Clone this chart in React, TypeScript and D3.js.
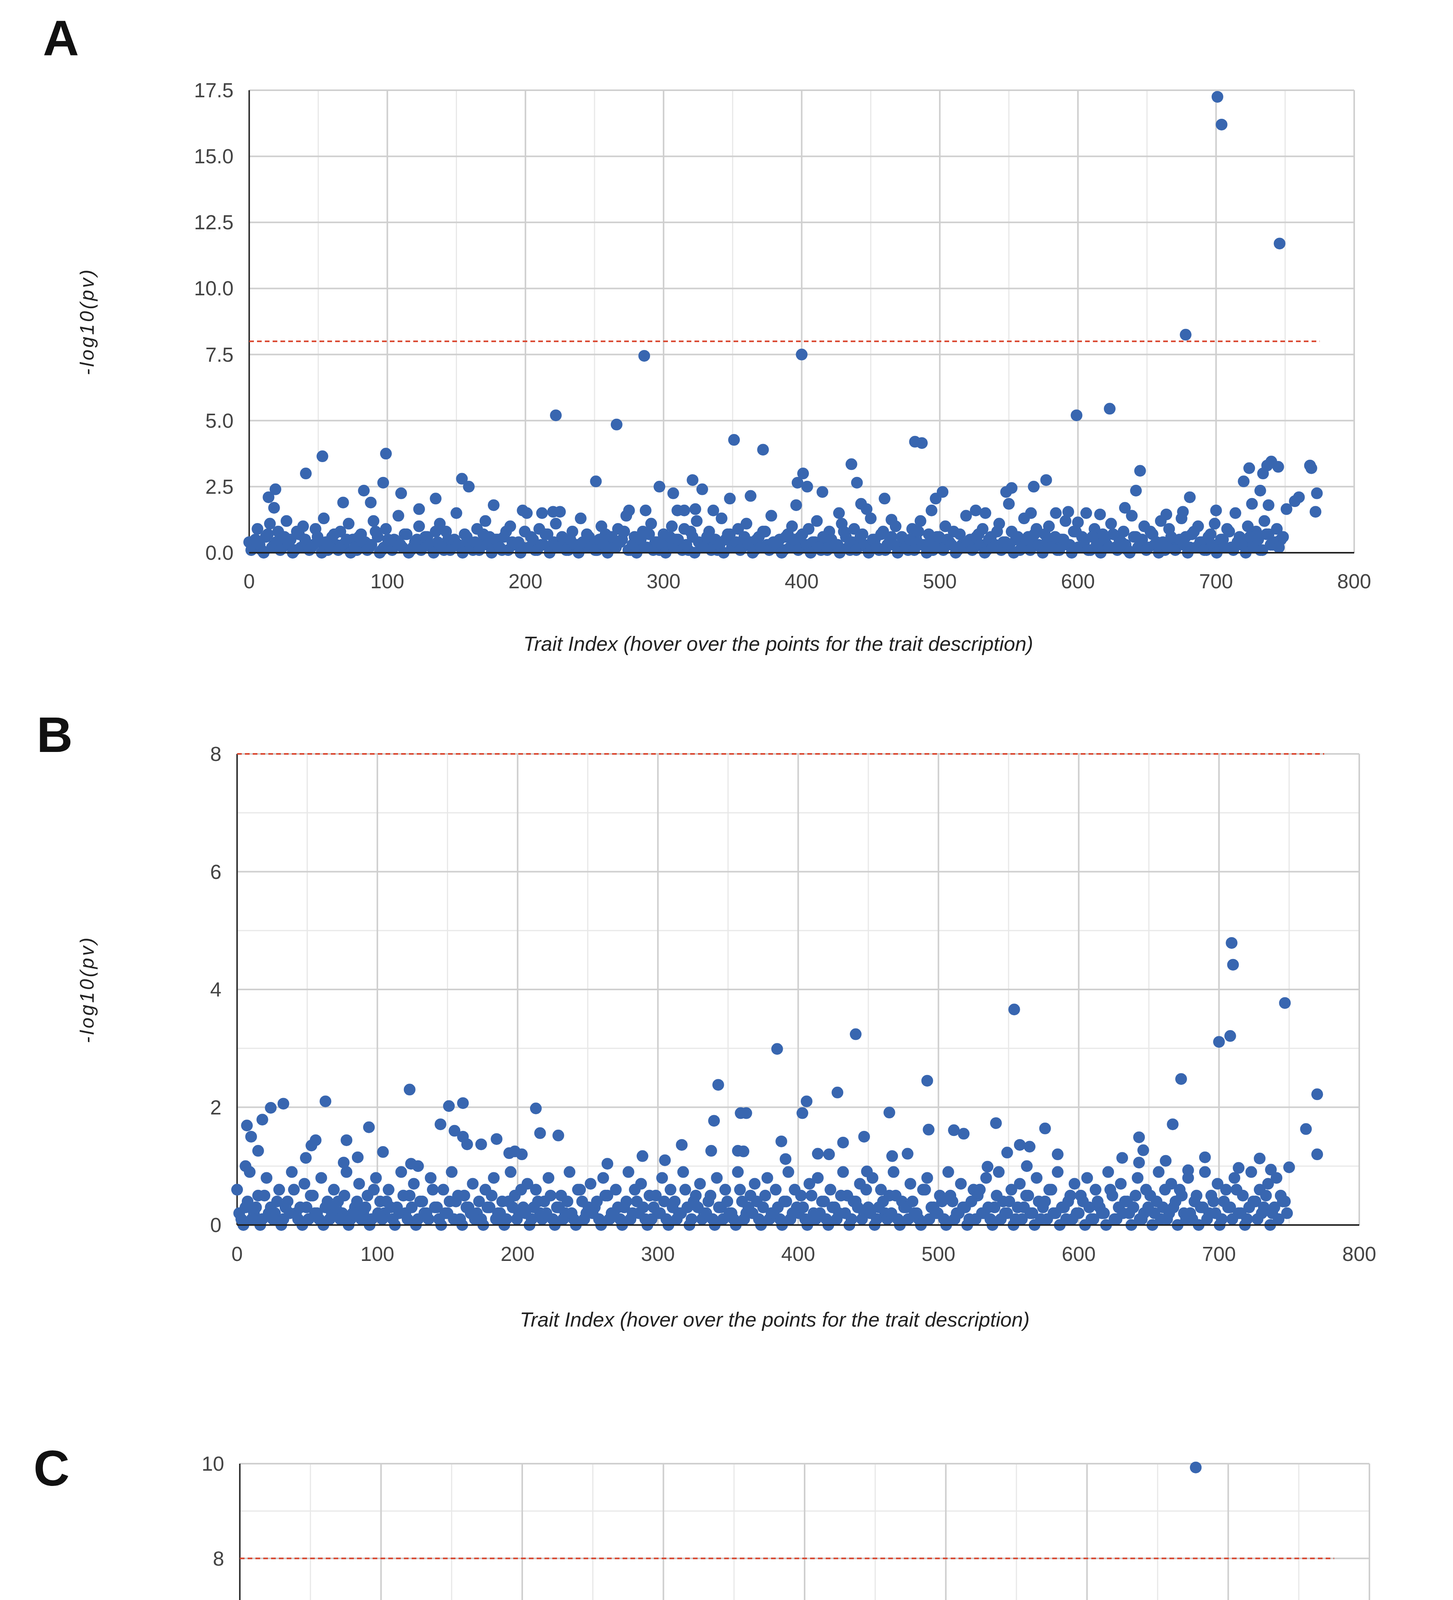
import React from "react";
import * as d3 from "d3";

// ---------- DATA ----------
// base (dense, low) values: trait index = position * 3
const baseA = [
0.4,0.2,0.9,0.1,0.6,1.1,0.3,0.8,0.2,1.2,0.5,0.1,0.7,1.0,0.3,0.2,0.9,0.4,1.3,0.1,
0.6,0.3,0.8,0.2,1.1,0.5,0.1,0.7,0.4,0.2,1.2,0.6,0.1,0.9,0.3,0.5,1.4,0.2,0.7,0.1,
0.4,1.0,0.3,0.6,0.2,0.8,1.1,0.1,0.5,0.3,1.5,0.2,0.7,0.4,0.1,0.9,0.3,1.2,0.6,0.2,
0.5,0.1,0.8,1.0,0.3,0.4,0.2,1.5,0.6,0.1,0.9,0.3,0.7,0.2,1.1,0.4,0.5,0.1,0.8,0.3,
1.3,0.2,0.6,0.4,0.1,1.0,0.7,0.3,0.2,0.9,0.5,1.4,0.1,0.6,0.3,0.8,0.2,1.1,0.4,0.1,
0.7,0.3,1.0,0.5,0.2,0.9,0.1,0.6,1.2,0.3,0.4,0.8,0.2,0.1,1.3,0.5,0.7,0.3,0.9,0.2,
1.1,0.4,0.1,0.6,0.8,0.3,1.4,0.2,0.5,0.1,0.7,1.0,0.3,0.6,0.2,0.9,0.4,1.2,0.1,0.5,
0.8,0.2,0.3,1.1,0.6,0.1,0.9,0.4,0.7,0.2,1.3,0.5,0.1,0.8,0.3,0.6,1.0,0.2,0.4,0.1,
0.9,0.5,1.2,0.3,0.7,0.1,0.6,0.2,1.0,0.4,0.8,0.1,0.3,1.4,0.5,0.2,0.7,0.9,0.1,0.6,
0.3,1.1,0.4,0.2,0.8,0.5,0.1,1.3,0.6,0.3,0.9,0.2,0.7,1.0,0.4,0.1,0.5,1.2,0.3,0.8,
0.2,0.6,1.5,0.1,0.9,0.4,0.7,0.3,1.1,0.2,0.5,0.8,0.1,1.4,0.6,0.3,1.0,0.2,0.7,0.4,
1.2,0.1,0.9,0.5,0.3,1.3,0.6,0.2,0.8,1.0,0.4,0.1,0.7,1.1,0.3,0.5,0.9,0.2,1.5,0.6,
0.4,1.0,0.2,0.8,0.1,1.2,0.7,0.3,0.9,0.5];
const baseA2 = [
0.1,0.5,0.3,0.0,0.7,0.2,0.4,0.1,0.6,0.3,0.0,0.8,0.2,0.5,0.1,0.3,0.6,0.0,0.4,0.2,
0.7,0.1,0.3,0.5,0.0,0.2,0.6,0.4,0.1,0.3,0.8,0.0,0.2,0.5,0.1,0.4,0.3,0.7,0.0,0.2,
0.5,0.1,0.6,0.3,0.0,0.4,0.2,0.8,0.1,0.5,0.3,0.0,0.6,0.2,0.4,0.1,0.7,0.3,0.0,0.5,
0.2,0.6,0.1,0.4,0.3,0.0,0.8,0.2,0.5,0.1,0.3,0.7,0.0,0.4,0.2,0.6,0.1,0.5,0.3,0.0,
0.4,0.7,0.2,0.1,0.5,0.3,0.0,0.6,0.2,0.4,0.8,0.1,0.3,0.0,0.5,0.2,0.7,0.1,0.4,0.3,
0.0,0.6,0.2,0.5,0.1,0.3,0.8,0.0,0.4,0.2,0.6,0.1,0.5,0.3,0.0,0.7,0.2,0.4,0.1,0.6,
0.3,0.0,0.5,0.2,0.8,0.1,0.4,0.3,0.0,0.6,0.2,0.5,0.1,0.7,0.3,0.0,0.4,0.2,0.6,0.1,
0.5,0.3,0.0,0.8,0.2,0.4,0.1,0.6,0.3,0.0,0.5,0.2,0.7,0.1,0.4,0.3,0.0,0.6,0.2,0.5,
0.1,0.8,0.3,0.0,0.4,0.2,0.6,0.1,0.5,0.3,0.0,0.7,0.2,0.4,0.1,0.6,0.3,0.0,0.5,0.2,
0.8,0.1,0.4,0.3,0.0,0.6,0.2,0.5,0.1,0.7,0.3,0.0,0.4,0.2,0.6,0.1,0.5,0.3,0.0,0.8,
0.2,0.4,0.1,0.6,0.3,0.0,0.5,0.2,0.7,0.1,0.4,0.3,0.0,0.6,0.2,0.5,0.1,0.8,0.3,0.0,
0.4,0.2,0.6,0.1,0.5,0.3,0.0,0.7,0.2,0.4,0.1,0.6,0.3,0.0,0.5,0.2,0.8,0.1,0.4,0.3,
0.0,0.6,0.2,0.5,0.1,0.7,0.3,0.4,0.2,0.6];
const outA: [number, number][] = [
[701,17.25],[704,16.2],[746,11.7],[678,8.25],[286,7.45],[400,7.5],[222,5.2],[266,4.85],[599,5.2],[623,5.45],
[351,4.27],[372,3.9],[482,4.2],[487,4.15],[53,3.65],[99,3.75],[41,3.0],[436,3.35],[645,3.1],[724,3.2],
[740,3.45],[737,3.3],[745,3.25],[768,3.3],[769,3.2],[401,3.0],[19,2.4],[14,2.1],[18,1.7],[97,2.65],
[83,2.35],[110,2.25],[135,2.05],[154,2.8],[159,2.5],[251,2.7],[297,2.5],[307,2.25],[321,2.75],[328,2.4],
[363,2.15],[348,2.05],[397,2.65],[404,2.5],[415,2.3],[440,2.65],[460,2.05],[502,2.3],[497,2.05],[548,2.3],
[552,2.45],[577,2.75],[568,2.5],[642,2.35],[681,2.1],[720,2.7],[732,2.35],[773,2.25],[760,2.1],[734,3.0],
[88,1.9],[68,1.9],[123,1.65],[177,1.8],[198,1.6],[212,1.5],[220,1.55],[225,1.55],[275,1.6],[287,1.6],
[310,1.6],[315,1.6],[323,1.65],[336,1.6],[396,1.8],[427,1.5],[443,1.85],[447,1.65],[465,1.25],[494,1.6],
[526,1.6],[533,1.5],[550,1.85],[566,1.5],[584,1.5],[593,1.55],[616,1.45],[634,1.7],[664,1.45],[676,1.55],
[700,1.6],[726,1.85],[738,1.8],[751,1.65],[757,1.95],[772,1.55],[600,1.15]];

const baseB = [
0.6,0.1,0.3,0.9,0.2,0.5,0.1,0.8,0.3,0.2,0.6,0.1,0.4,0.9,0.2,0.3,0.7,0.1,0.5,0.2,
0.8,0.3,0.1,0.6,0.4,0.2,0.9,0.1,0.3,0.7,0.2,0.5,0.1,0.8,0.4,0.2,0.6,0.1,0.3,0.9,
0.2,0.5,0.7,0.1,0.4,0.2,0.8,0.3,0.1,0.6,0.2,0.9,0.4,0.1,0.5,0.3,0.7,0.2,0.1,0.6,
0.3,0.8,0.2,0.4,0.1,0.9,0.5,0.2,0.3,0.7,0.1,0.6,0.2,0.4,0.8,0.1,0.3,0.5,0.2,0.9,
0.1,0.6,0.4,0.2,0.7,0.3,0.1,0.8,0.5,0.2,0.6,0.1,0.3,0.9,0.2,0.4,0.7,0.1,0.5,0.3,
0.2,0.8,0.1,0.6,0.4,0.2,0.9,0.3,0.1,0.5,0.7,0.2,0.4,0.1,0.8,0.3,0.6,0.2,0.1,0.9,
0.4,0.2,0.5,0.7,0.1,0.3,0.8,0.2,0.6,0.1,0.4,0.9,0.2,0.3,0.5,0.1,0.7,0.2,0.8,0.4,
0.1,0.6,0.3,0.2,0.9,0.5,0.1,0.4,0.7,0.2,0.3,0.8,0.1,0.6,0.2,0.5,0.9,0.1,0.4,0.3,
0.7,0.2,0.1,0.6,0.8,0.3,0.2,0.5,0.1,0.9,0.4,0.2,0.7,0.3,0.1,0.6,0.5,0.2,0.8,0.1,
0.3,0.9,0.4,0.2,0.6,0.1,0.7,0.3,0.5,0.2,0.8,0.1,0.4,0.6,0.2,0.9,0.3,0.1,0.5,0.7,
0.2,0.4,0.8,0.1,0.6,0.3,0.2,0.9,0.5,0.1,0.7,0.4,0.2,0.3,0.8,0.1,0.6,0.5,0.2,0.9,
0.3,0.1,0.7,0.4,0.6,0.2,0.8,0.1,0.5,0.3,0.9,0.2,0.4,0.7,0.1,0.6,0.3,0.8,0.2,0.5,
0.1,0.9,0.4,0.6,0.3,0.7,0.2,0.8,0.5,0.4];
const baseB2 = [
0.2,0.0,0.4,0.1,0.3,0.0,0.5,0.2,0.1,0.4,0.0,0.3,0.2,0.6,0.1,0.0,0.3,0.5,0.2,0.1,
0.0,0.4,0.2,0.3,0.1,0.5,0.0,0.2,0.4,0.1,0.3,0.0,0.6,0.2,0.1,0.4,0.3,0.0,0.2,0.5,
0.1,0.3,0.0,0.4,0.2,0.1,0.6,0.3,0.0,0.2,0.4,0.1,0.5,0.0,0.3,0.2,0.1,0.4,0.0,0.3,
0.5,0.1,0.2,0.0,0.4,0.3,0.1,0.6,0.2,0.0,0.3,0.4,0.1,0.2,0.5,0.0,0.3,0.1,0.4,0.2,
0.0,0.6,0.1,0.3,0.2,0.4,0.0,0.5,0.1,0.2,0.3,0.0,0.4,0.1,0.6,0.2,0.3,0.0,0.1,0.5,
0.2,0.4,0.0,0.3,0.1,0.2,0.6,0.0,0.4,0.3,0.1,0.2,0.5,0.0,0.3,0.1,0.4,0.2,0.0,0.6,
0.1,0.3,0.2,0.4,0.0,0.5,0.1,0.2,0.3,0.0,0.4,0.1,0.6,0.2,0.3,0.0,0.5,0.1,0.2,0.4,
0.0,0.3,0.1,0.5,0.2,0.0,0.4,0.3,0.1,0.6,0.2,0.0,0.3,0.4,0.1,0.2,0.5,0.0,0.3,0.1,
0.4,0.2,0.0,0.6,0.1,0.3,0.2,0.4,0.0,0.5,0.1,0.2,0.3,0.0,0.4,0.1,0.6,0.2,0.3,0.0,
0.5,0.1,0.2,0.4,0.0,0.3,0.1,0.5,0.2,0.0,0.4,0.3,0.1,0.6,0.2,0.0,0.3,0.4,0.1,0.2,
0.5,0.0,0.3,0.1,0.4,0.2,0.0,0.6,0.1,0.3,0.2,0.4,0.0,0.5,0.1,0.2,0.3,0.0,0.4,0.1,
0.6,0.2,0.3,0.0,0.5,0.1,0.2,0.4,0.0,0.3,0.1,0.5,0.2,0.0,0.4,0.3,0.1,0.6,0.2,0.0,
0.3,0.4,0.1,0.2,0.5,0.0,0.3,0.1,0.4,0.2];
const outB: [number, number][] = [
[709,4.79],[710,4.42],[747,3.77],[554,3.66],[441,3.24],[708,3.21],[700,3.11],[385,2.99],[673,2.48],[492,2.45],
[343,2.38],[123,2.3],[428,2.25],[770,2.22],[63,2.1],[33,2.06],[24,1.99],[161,2.07],[151,2.02],[213,1.98],
[406,2.1],[403,1.9],[359,1.9],[363,1.9],[465,1.91],[18,1.79],[7,1.69],[10,1.5],[145,1.71],[340,1.77],
[667,1.71],[541,1.73],[576,1.64],[493,1.62],[511,1.61],[518,1.55],[762,1.63],[94,1.66],[155,1.6],[216,1.56],
[229,1.52],[185,1.46],[161,1.5],[447,1.5],[643,1.49],[78,1.44],[56,1.44],[53,1.35],[164,1.37],[174,1.37],
[388,1.42],[432,1.4],[317,1.36],[558,1.36],[565,1.33],[15,1.26],[338,1.26],[357,1.26],[361,1.25],[646,1.27],
[549,1.23],[104,1.24],[585,1.2],[194,1.22],[198,1.25],[203,1.2],[770,1.2],[414,1.21],[422,1.2],[467,1.17],
[478,1.21],[86,1.15],[49,1.14],[289,1.17],[305,1.1],[631,1.14],[690,1.15],[729,1.13],[391,1.12],[662,1.09],
[6,1.0],[76,1.06],[124,1.04],[129,1.0],[563,1.0],[643,1.06],[714,0.97],[750,0.98],[737,0.94],[535,0.99],
[264,1.04],[678,0.93],[449,0.91]];

const baseC = [
0.3,0.1,0.5,0.2,0.7,0.1,0.4,0.9,0.2,0.3,0.6,0.1,0.8,0.2,0.4,0.1,0.5,0.7,0.2,0.3,
0.1,0.6,0.2,0.9,0.4,0.1,0.3,0.5,0.2,0.7,0.1,0.4,0.6,0.2,0.1,0.8,0.3,0.5,0.2,0.1,
0.6,0.3,0.9,0.1,0.4,0.2,0.7,0.1,0.5,0.3,0.2,0.6,0.1,0.8,0.4,0.2,0.3,0.1,0.7,0.5,
0.2,0.1,0.6,0.3,0.9,0.2,0.4,0.1,0.5,0.7,0.2,0.3,0.1,0.6,0.4,0.8,0.2,0.1,0.5,0.3,
0.7,0.1,0.2,0.6,0.4,0.1,0.9,0.3,0.5,0.2,0.1,0.7,0.3,0.6,0.2,0.4,0.1,0.8,0.5,0.2,
0.3,0.1,0.6,0.9,0.2,0.4,0.1,0.7,0.3,0.5,0.2,0.8,0.1,0.4,0.6,0.2,0.3,0.1,0.9,0.5,
0.2,0.7,0.1,0.4,0.3,0.6,0.2,0.8,0.1,0.5,0.3,0.2,0.7,0.4,0.1,0.6,0.9,0.2,0.3,0.5,
0.1,0.8,0.4,0.2,0.6,0.1,0.3,0.7,0.5,0.2,0.1,0.9,0.4,0.3,0.6,0.2,0.1,0.8,0.5,0.3,
0.2,0.7,0.1,0.4,0.6,0.2,0.9,0.3,0.1,0.5,0.8,0.2,0.4,0.1,0.7,0.3,0.6,0.2,0.1,0.5,
0.9,0.3,0.2,0.6,0.4,0.1,0.8,0.5,0.2,0.3,0.7,0.1,0.4,0.6,0.2,0.9,0.3,0.1,0.5,0.8,
0.2,0.4,0.7,0.1,0.6,0.3,0.2,1.0,0.5,0.1,0.8,0.4,0.3,0.6,0.2,0.9,0.1,0.7,0.5,0.3,
0.2,1.1,0.4,0.6,0.1,0.8,0.3,0.9,0.2,0.5,0.4,1.0,0.1,0.7,0.3,0.2,0.6,0.1,0.4,0.2,
0.9,0.6,1.1,0.8,0.4,0.7,0.2,0.5,0.9,0.3];
const baseC2 = [
0.1,0.4,0.0,0.2,0.3,0.1,0.5,0.0,0.2,0.4,0.1,0.3,0.0,0.5,0.2,0.1,0.3,0.0,0.4,0.2,
0.5,0.1,0.0,0.3,0.2,0.4,0.1,0.0,0.5,0.3,0.2,0.1,0.4,0.0,0.3,0.2,0.5,0.1,0.0,0.4,
0.2,0.3,0.1,0.5,0.0,0.2,0.4,0.1,0.3,0.0,0.5,0.2,0.1,0.4,0.0,0.3,0.2,0.5,0.1,0.0,
0.4,0.2,0.3,0.1,0.0,0.5,0.2,0.4,0.1,0.3,0.0,0.2,0.5,0.1,0.4,0.0,0.3,0.2,0.1,0.5,
0.0,0.4,0.2,0.3,0.1,0.5,0.0,0.2,0.4,0.1,0.3,0.0,0.5,0.2,0.1,0.4,0.0,0.3,0.2,0.5,
0.1,0.0,0.4,0.2,0.3,0.1,0.5,0.0,0.2,0.4,0.1,0.3,0.0,0.5,0.2,0.1,0.4,0.0,0.3,0.2,
0.5,0.1,0.0,0.4,0.2,0.3,0.1,0.5,0.0,0.2,0.4,0.1,0.3,0.0,0.5,0.2,0.1,0.4,0.0,0.3,
0.2,0.5,0.1,0.0,0.4,0.2,0.3,0.1,0.5,0.0,0.2,0.4,0.1,0.3,0.0,0.5,0.2,0.1,0.4,0.0,
0.3,0.2,0.5,0.1,0.0,0.4,0.2,0.3,0.1,0.5,0.0,0.2,0.4,0.1,0.3,0.0,0.5,0.2,0.1,0.4,
0.0,0.3,0.2,0.5,0.1,0.0,0.4,0.2,0.3,0.1,0.5,0.0,0.2,0.4,0.1,0.3,0.0,0.5,0.2,0.1,
0.4,0.0,0.3,0.2,0.5,0.1,0.0,0.4,0.2,0.3,0.1,0.5,0.0,0.2,0.4,0.1,0.3,0.0,0.5,0.2,
0.1,0.4,0.0,0.3,0.2,0.5,0.1,0.0,0.4,0.2,0.3,0.1,0.5,0.0,0.2,0.4,0.1,0.3,0.0,0.5,
0.2,0.1,0.4,0.0,0.3,0.2,0.5,0.1,0.2,0.4];
const outC: [number, number][] = [
[677,9.92],[675,6.82],[492,4.51],[228,4.26],[770,4.26],[712,4.01],[714,3.97],[770,3.87],[441,3.69],[742,3.75],
[746,3.57],[776,3.55],[728,3.23],[734,3.12],[717,2.98],[721,2.98],[724,2.89],[739,2.86],[743,2.76],[716,2.75],
[728,2.72],[749,2.6],[293,2.61],[591,2.6],[734,2.53],[724,2.46],[739,2.41],[733,2.4],[399,2.43],[454,2.39],
[720,2.34],[52,2.31],[717,2.27],[719,2.15],[174,2.12],[751,2.12],[762,2.04],[342,2.0],[765,1.91],[775,1.86],
[148,1.91],[452,1.9],[734,1.96],[13,1.88],[297,1.85],[713,1.79],[712,1.75],[724,1.74],[673,1.71],[635,1.71],
[238,1.7],[520,1.67],[547,1.67],[610,1.67],[215,1.65],[10,1.62],[69,1.59],[371,1.6],[374,1.58],[9,1.54],
[612,1.53],[350,1.57],[475,1.56],[402,1.54],[45,1.53],[96,1.51],[196,1.51],[265,1.53],[319,1.53],[75,1.45],
[579,1.46],[552,1.42],[387,1.42],[383,1.36],[232,1.39],[247,1.35],[179,1.36],[608,1.36],[43,1.27],[79,1.25],
[152,1.31],[501,1.3],[696,1.3],[505,1.2],[736,1.18],[751,1.23],[376,1.21],[314,1.19],[326,1.18],[430,1.2],
[443,1.18],[645,1.21],[121,1.19],[133,1.23],[576,1.18],[620,1.13],[749,1.07],[4,1.05],[98,1.05],[164,1.05],
[663,1.0],[700,0.95],[760,0.9],[735,0.8],[745,0.6],[742,0.05],[757,0.3]];

const xTicks = [0, 100, 200, 300, 400, 500, 600, 700, 800];
const yTicksA = [0, 2.5, 5, 7.5, 10, 12.5, 15, 17.5];
const yTicksB = [0, 2, 4, 6, 8];
const yTicksC = [0, 2, 4, 6, 8, 10];
const threshold = 8;
const xTitle = "Trait Index (hover over the points for the trait description)";
const yTitle = "-log10(pv)";

// ---------- DRAWING ----------
const DOT = "#3866b0";
const FONT = "'Liberation Sans', Arial, sans-serif";

type PanelProps = {
  letter: string; letterX: number; letterY: number;
  left: number; right: number; top: number; bottom: number;
  yMax: number; yTicks: number[]; yMinor: number[]; fmt: (v: number) => string;
  base: number[]; base2: number[]; out: [number, number][];
  tickY: number; titleY: number;
};

function Panel(p: PanelProps) {
  const x = d3.scaleLinear().domain([0, 800]).range([p.left, p.right]);
  const y = d3.scaleLinear().domain([0, p.yMax]).range([p.bottom, p.top]);
  const pts: [number, number][] = p.base.map((v, i) => [i * 3, v] as [number, number])
    .concat(p.base2.map((v, i) => [i * 3 + 1.5, v] as [number, number]))
    .concat(p.out);
  const xMinor = d3.range(50, 800, 100);
  return (
    <g>
      <text x={p.letterX} y={p.letterY} fontFamily={FONT} fontWeight="bold" fontSize={128} textAnchor="middle" fill="#111">{p.letter}</text>
      {xMinor.map(v => <line key={"xm" + v} x1={x(v)} x2={x(v)} y1={p.top} y2={p.bottom} stroke="#e8e8e8" strokeWidth={3} />)}
      {p.yMinor.map(v => <line key={"ym" + v} x1={p.left} x2={p.right} y1={y(v)} y2={y(v)} stroke="#e8e8e8" strokeWidth={3} />)}
      {xTicks.map(v => <line key={"xg" + v} x1={x(v)} x2={x(v)} y1={p.top} y2={p.bottom} stroke="#cfcfcf" strokeWidth={4} />)}
      {p.yTicks.map(v => <line key={"yg" + v} x1={p.left} x2={p.right} y1={y(v)} y2={y(v)} stroke="#cfcfcf" strokeWidth={4} />)}
      <line x1={p.left} x2={p.left} y1={p.top} y2={p.bottom} stroke="#333" strokeWidth={4} />
      <line x1={x(0)} x2={x(775)} y1={y(threshold)} y2={y(threshold)} stroke="#d9432b" strokeWidth={4} strokeDasharray="12 8" />
      {pts.map((d, i) => <circle key={i} cx={x(d[0])} cy={y(d[1])} r={15} fill={DOT} />)}
      <line x1={p.left} x2={p.right} y1={p.bottom} y2={p.bottom} stroke="#222" strokeWidth={4} />
      {xTicks.map(v => <text key={"xt" + v} x={x(v)} y={p.tickY} fontFamily={FONT} fontSize={52} fill="#444" textAnchor="middle">{v}</text>)}
      {p.yTicks.map(v => <text key={"yt" + v} x={p.left - 40} y={y(v) + 18} fontFamily={FONT} fontSize={52} fill="#444" textAnchor="end">{p.fmt(v)}</text>)}
      <text x={(p.left + p.right) / 2 - 60} y={p.titleY} fontFamily={FONT} fontStyle="italic" fontSize={52} fill="#222" textAnchor="middle">{xTitle}</text>
      <text transform={`translate(240,${(p.top + p.bottom) / 2}) rotate(-90)`} fontFamily={FONT} fontStyle="italic" fontSize={50} letterSpacing={5} fill="#222" textAnchor="middle">{yTitle}</text>
    </g>
  );
}

export default function App() {
  const f1 = (v: number) => v.toFixed(1);
  const f0 = (v: number) => String(v);
  return (
    <svg width={3720} height={5340} viewBox="0 0 3720 5340" style={{ display: "block", margin: -8, background: "#fff" }}>
      <rect width={3720} height={5340} fill="#fff" />
      <Panel letter="A" letterX={156} letterY={142} left={638} right={3467} top={231} bottom={1415}
        yMax={17.5} yTicks={yTicksA} yMinor={[]} fmt={f1} base={baseA} base2={baseA2} out={outA} tickY={1506} titleY={1666} />
      <Panel letter="B" letterX={140} letterY={1925} left={607} right={3480} top={1930} bottom={3136}
        yMax={8} yTicks={yTicksB} yMinor={[1, 3, 5, 7]} fmt={f0} base={baseB} base2={baseB2} out={outB} tickY={3228} titleY={3396} />
      <Panel letter="C" letterX={132} letterY={3803} left={614} right={3506} top={3747} bottom={4960}
        yMax={10} yTicks={yTicksC} yMinor={[1, 3, 5, 7, 9]} fmt={f0} base={baseC} base2={baseC2} out={outC} tickY={5058} titleY={5226} />
    </svg>
  );
}
